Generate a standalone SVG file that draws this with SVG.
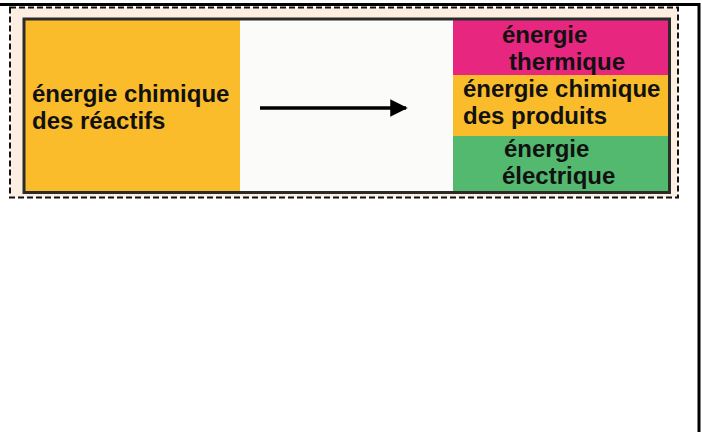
<svg xmlns="http://www.w3.org/2000/svg" width="702" height="432" viewBox="0 0 702 432">
<style>
  .t { font-family: "Liberation Sans", Arial, sans-serif; font-weight: bold; font-size: 24px; fill: #111; }
  .frame { stroke: #000; stroke-width: 3; fill: none; }
</style>
<defs>
  <marker id="ah" markerWidth="5" markerHeight="5" refX="4.5" refY="2.5" orient="auto" markerUnits="strokeWidth">
    <path d="M0,0 L5,2.5 L0,5 Z" fill="#000"/>
  </marker>
</defs>
<rect width="702" height="432" fill="#fff"/>
<line class="frame" x1="0" y1="4.5" x2="700" y2="4.5"/>
<line class="frame" x1="699" y1="3" x2="699" y2="432"/>
<rect x="10" y="7.5" width="668" height="190" fill="#fdeee2" stroke="#111" stroke-width="2" stroke-dasharray="6,3"/>
<rect x="24" y="19" width="645.5" height="173.5" fill="#fbfbfa"/>
<g id="reactifs">
  <rect x="24" y="19" width="216" height="173.5" fill="#fbbc2c"/>
  <text class="t" x="32" y="102">énergie chimique</text>
  <text class="t" x="32" y="129">des réactifs</text>
</g>
<g id="thermique">
  <rect x="453" y="19" width="216.5" height="56" fill="#e6267f"/>
  <text class="t" x="502" y="43">énergie</text>
  <text class="t" x="509" y="70">thermique</text>
</g>
<g id="produits">
  <rect x="453" y="75" width="216.5" height="61" fill="#fbbc2c"/>
  <text class="t" x="463" y="97">énergie chimique</text>
  <text class="t" x="463" y="124">des produits</text>
</g>
<g id="electrique">
  <rect x="453" y="136" width="216.5" height="56.5" fill="#53b96f"/>
  <text class="t" x="504" y="157">énergie</text>
  <text class="t" x="502" y="184">électrique</text>
</g>
<rect x="24" y="19" width="645.5" height="173.5" fill="none" stroke="#2b2b2b" stroke-width="3"/>
<g id="connectors">
  <line x1="260" y1="108" x2="406" y2="108" stroke="#000" stroke-width="3.5" marker-end="url(#ah)"/>
</g>
</svg>
